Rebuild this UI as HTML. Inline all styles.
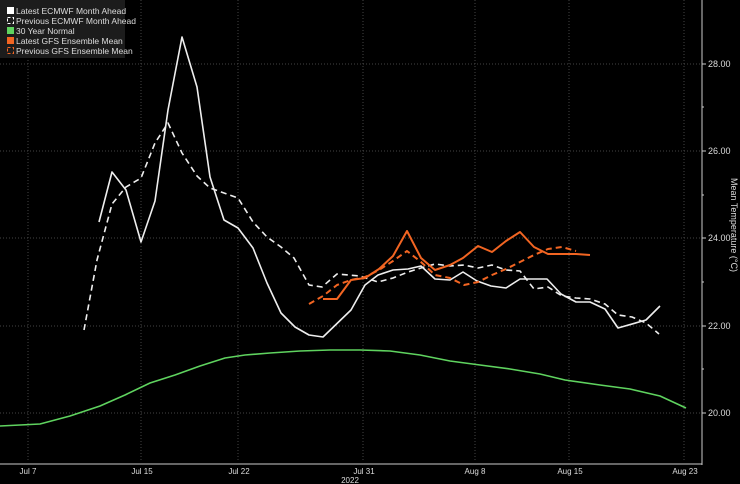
<!DOCTYPE html><html><head><style>body{margin:0;background:#000}svg{display:block}text{font-family:"Liberation Sans",sans-serif;fill:#ddd}</style></head><body>
<svg width="740" height="484" viewBox="0 0 740 484">
<rect width="740" height="484" fill="#000"/>
<g stroke="#444" stroke-dasharray="1,2" stroke-width="1">
<line x1="0" y1="64" x2="700" y2="64"/><line x1="0" y1="151" x2="700" y2="151"/><line x1="0" y1="238" x2="700" y2="238"/><line x1="0" y1="326" x2="700" y2="326"/><line x1="0" y1="413" x2="700" y2="413"/>
<line x1="28" y1="0" x2="28" y2="462"/><line x1="141" y1="0" x2="141" y2="462"/><line x1="238" y1="0" x2="238" y2="462"/><line x1="363" y1="0" x2="363" y2="462"/><line x1="475" y1="0" x2="475" y2="462"/><line x1="569" y1="0" x2="569" y2="462"/><line x1="684" y1="0" x2="684" y2="462"/>
</g>
<line x1="702" y1="0" x2="702" y2="465" stroke="#ccc"/>
<line x1="0" y1="464" x2="702" y2="464" stroke="#ccc"/>
<g stroke="#ccc"><line x1="702" y1="64" x2="706" y2="64"/><line x1="702" y1="151" x2="706" y2="151"/><line x1="702" y1="238" x2="706" y2="238"/><line x1="702" y1="326" x2="706" y2="326"/><line x1="702" y1="413" x2="706" y2="413"/>
<line x1="702" y1="107" x2="704" y2="107"/><line x1="702" y1="195" x2="704" y2="195"/><line x1="702" y1="282" x2="704" y2="282"/><line x1="702" y1="369" x2="704" y2="369"/></g>
<g font-size="9"><text x="708" y="67">28.00</text><text x="708" y="154">26.00</text><text x="708" y="241">24.00</text><text x="708" y="329">22.00</text><text x="708" y="416">20.00</text></g>
<text transform="translate(731,225) rotate(90)" font-size="9" text-anchor="middle">Mean Temperature (°C)</text>
<g font-size="8" text-anchor="middle"><text x="28" y="474">Jul 7</text><text x="142" y="474">Jul 15</text><text x="239" y="474">Jul 22</text><text x="364" y="474">Jul 31</text><text x="475" y="474">Aug 8</text><text x="570" y="474">Aug 15</text><text x="685" y="474">Aug 23</text><text x="350" y="483">2022</text></g>
<g fill="none" stroke-width="1.6" stroke-linejoin="round">
<polyline stroke="#5fd35f" points="0,426 40,424 70,416 100,406 125,395 150,383 175,375 200,366 225,358 245,355 270,353 300,351 330,350 360,350 390,351 420,355 450,361 480,365 510,369 540,374 565,380 600,385 630,389 660,396 686,408"/>
<polyline stroke="#eee" stroke-dasharray="6,4" points="84,330 97,260 112,204 126,187 141,178 155,143 168,123 182,153 197,176 210,188 224,193 238,198 253,222 267,237 281,247 294,258 309,285 322,287 337,274 360,276 378,282 393,278 408,272 421,268 435,264 450,266 464,265 478,268 492,265 506,270 520,271 534,289 548,287 562,296 576,298 590,299 605,304 618,315 632,317 646,323 659,334"/>
<polyline stroke="#eee" points="99,222 112,172 126,190 141,242 155,201 168,110 182,37 197,87 210,177 224,220 238,228 253,248 267,283 281,313 295,327 309,335 323,337 351,310 365,285 378,275 393,270 408,269 421,266 435,279 450,280 463,272 477,281 491,286 506,288 520,279 534,279 547,279 561,294 576,302 590,302 605,309 618,328 646,320 660,306"/>
<polyline stroke="#f26522" stroke-width="2" stroke-dasharray="6,4" points="309,304 323,296 337,285 351,280 365,277 379,270 393,261 407,251 421,262 435,275 450,278 464,285 478,282 492,275 506,269 520,262 534,255 548,249 562,247 576,251"/>
<polyline stroke="#f26522" stroke-width="2" points="323,299 337,299 351,280 365,278 379,269 393,256 407,231 421,258 435,270 450,265 463,258 478,246 492,252 506,241 520,232 534,247 548,254 562,254 576,254 590,255"/>
</g>
<rect x="0" y="0" width="125" height="58" fill="#1c1c1c"/>
<g font-size="8.5"><text x="16" y="14">Latest ECMWF Month Ahead</text><text x="16" y="24">Previous ECMWF Month Ahead</text><text x="16" y="34">30 Year Normal</text><text x="16" y="44">Latest GFS Ensemble Mean</text><text x="16" y="54">Previous GFS Ensemble Mean</text></g>
<rect x="7" y="7" width="7" height="7" fill="#fff"/>
<rect x="7.5" y="17.5" width="6" height="6" fill="none" stroke="#fff" stroke-dasharray="3,2"/>
<rect x="7" y="27" width="7" height="7" fill="#5fd35f"/>
<rect x="7" y="37" width="7" height="7" fill="#f26522"/>
<rect x="7.5" y="47.5" width="6" height="6" fill="none" stroke="#f26522" stroke-dasharray="3,2"/>
</svg></body></html>
